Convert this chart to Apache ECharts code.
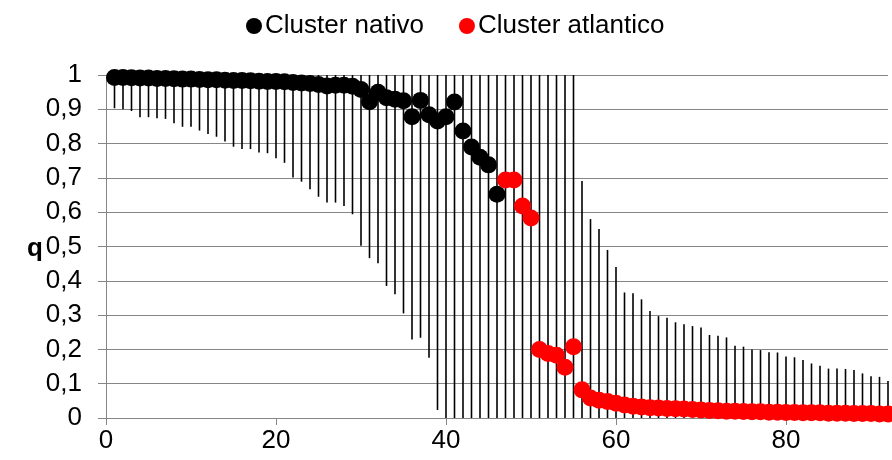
<!DOCTYPE html>
<html>
<head>
<meta charset="utf-8">
<script src="https://cdn.jsdelivr.net/npm/echarts@6/dist/echarts.min.js"></script>
<style>
  html, body { margin: 0; padding: 0; background: #fff; }
  #chart { width: 892px; height: 460px; }
</style>
</head>
<body>
<div id="chart"></div>
<script>
// Sample index (x)
var sampleIndex = [1,2,3,4,5,6,7,8,9,10,11,12,13,14,15,16,17,18,19,20,21,22,23,24,25,26,27,28,29,30,
  31,32,33,34,35,36,37,38,39,40,41,42,43,44,45,46,47,48,49,50,51,52,53,54,55,56,57,58,59,60,
  61,62,63,64,65,66,67,68,69,70,71,72,73,74,75,76,77,78,79,80,81,82,83,84,85,86,87,88,89,90,91,92];

// q values, "Cluster nativo" (samples 1-46)
var qNativo = [0.993,0.993,0.992,0.991,0.991,0.990,0.990,0.989,0.988,0.988,
  0.987,0.986,0.986,0.985,0.984,0.984,0.983,0.982,0.981,0.981,
  0.980,0.978,0.977,0.975,0.972,0.968,0.970,0.970,0.967,0.958,
  0.922,0.950,0.934,0.929,0.925,0.878,0.926,0.884,0.866,0.878,
  0.921,0.837,0.790,0.760,0.738,0.652];

// q values, "Cluster atlantico" (samples 47-92)
var qAtlantico = [0.694,0.694,0.618,0.583,0.200,0.188,0.183,0.148,0.208,0.082,
  0.058,0.052,0.048,0.043,0.038,0.034,0.032,0.030,0.029,0.028,
  0.027,0.026,0.025,0.023,0.022,0.021,0.020,0.020,0.019,0.018,
  0.018,0.017,0.017,0.016,0.016,0.015,0.015,0.015,0.014,0.014,
  0.014,0.013,0.013,0.013,0.012,0.012];

// Error bar (credible interval) lower limits, samples 1-92
var qLower = [0.903,0.900,0.895,0.877,0.877,0.874,0.872,0.859,0.849,0.849,
  0.838,0.828,0.820,0.806,0.791,0.784,0.784,0.774,0.772,0.757,
  0.744,0.701,0.689,0.667,0.645,0.628,0.628,0.618,0.594,0.502,
  0.466,0.451,0.385,0.361,0.305,0.229,0.234,0.176,0.023,0,
  0,0,0,0,0,0,0,0,0,0,
  0,0,0,0,0,0,0,0,0,0,
  0,0,0,0,0,0,0,0,0,0,
  0,0,0,0,0,0,0,0,0,0,
  0,0,0,0,0,0,0,0,0,0,
  0,0];

// Error bar upper limits, samples 1-92
var qUpper = [1,1,1,1,1,1,1,1,1,1,
  1,1,1,1,1,1,1,1,1,1,
  1,1,1,1,1,1,1,1,1,1,
  1,1,1,1,1,1,1,1,1,1,
  1,1,1,1,1,1,1,1,1,1,
  1,1,1,1,1,0.691,0.580,0.551,0.490,0.440,
  0.366,0.364,0.346,0.312,0.297,0.292,0.279,0.273,0.268,0.264,
  0.242,0.240,0.235,0.211,0.208,0.200,0.198,0.192,0.191,0.179,
  0.177,0.169,0.159,0.152,0.144,0.144,0.143,0.140,0.130,0.122,
  0.120,0.108];

var xTickLabels = [0, 20, 40, 60, 80];
var seriesNames = ['Cluster nativo', 'Cluster atlantico'];

var FONT = '"Liberation Sans", Arial, sans-serif';
var GRID_COLOR = '#868686';

var nativoData = qNativo.map(function (v, i) { return [sampleIndex[i], v]; });
var atlData = qAtlantico.map(function (v, i) { return [sampleIndex[i + qNativo.length], v]; });
var errData = sampleIndex.map(function (x, i) { return [x, qLower[i], qUpper[i]]; });

var chart = echarts.init(document.getElementById('chart'), null, { renderer: 'canvas' });

chart.setOption({
  animation: false,
  backgroundColor: '#ffffff',
  textStyle: { fontFamily: FONT },
  grid: { left: 106, right: 4, top: 75, bottom: 42 },
  legend: {
    data: seriesNames,
    left: 241,
    top: 8,
    icon: 'circle',
    itemWidth: 16,
    itemHeight: 16,
    itemGap: 35,
    textStyle: { fontSize: 26, color: '#000', fontFamily: FONT, padding: [0, 0, 0, -2] }
  },
  graphic: [{
    type: 'text',
    left: 27,
    top: 236,
    style: { text: 'q', font: 'bold 26px ' + FONT, fill: '#000' }
  }],
  xAxis: {
    type: 'value',
    min: 0,
    max: 92,
    interval: 20,
    axisLine: { show: true, lineStyle: { color: GRID_COLOR, width: 1 } },
    axisTick: { show: true, length: 7, lineStyle: { color: GRID_COLOR }, customValues: xTickLabels },
    axisLabel: { fontSize: 26, color: '#000', margin: 10, customValues: xTickLabels, fontFamily: FONT },
    splitLine: { show: false }
  },
  yAxis: {
    type: 'value',
    min: 0,
    max: 1,
    interval: 0.1,
    axisLine: { show: true, lineStyle: { color: GRID_COLOR, width: 1 } },
    axisTick: { show: true, length: 8, lineStyle: { color: GRID_COLOR } },
    axisLabel: {
      fontSize: 26, color: '#000', margin: 24, fontFamily: FONT,
      formatter: function (v) {
        var r = Math.round(v * 10) / 10;
        if (r === 0) return '0';
        if (r === 1) return '1';
        return r.toFixed(1).replace('.', ',');
      }
    },
    splitLine: { show: true, lineStyle: { color: GRID_COLOR, width: 1 } }
  },
  series: [
    {
      name: 'errorbars',
      type: 'custom',
      z: 1,
      silent: true,
      data: errData,
      encode: { x: 0, y: [1, 2] },
      renderItem: function (params, api) {
        var x = api.value(0);
        var p1 = api.coord([x, api.value(1)]);
        var p2 = api.coord([x, api.value(2)]);
        return {
          type: 'line',
          shape: { x1: p1[0], y1: p1[1], x2: p2[0], y2: p2[1] },
          style: { stroke: '#000', lineWidth: 1.6 }
        };
      }
    },
    {
      name: seriesNames[0],
      type: 'scatter',
      z: 3,
      symbol: 'circle',
      symbolSize: 17,
      itemStyle: { color: '#000000', opacity: 1 },
      data: nativoData
    },
    {
      name: seriesNames[1],
      type: 'scatter',
      z: 4,
      symbol: 'circle',
      symbolSize: 17,
      itemStyle: { color: '#ff0000', opacity: 1 },
      data: atlData
    }
  ]
});
</script>
</body>
</html>
